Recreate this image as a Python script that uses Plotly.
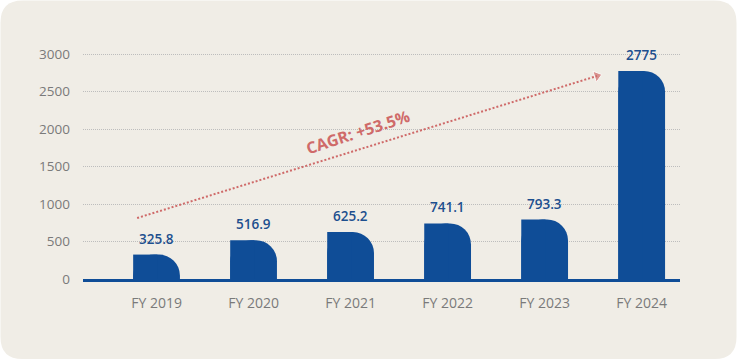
import plotly.graph_objects as go

categories = ["FY 2019", "FY 2020", "FY 2021", "FY 2022", "FY 2023", "FY 2024"]
revenue = [325.8, 516.9, 625.2, 741.1, 793.3, 2775]
value_labels = ["325.8", "516.9", "625.2", "741.1", "793.3", "2775"]
y_ticks = [0, 500, 1000, 1500, 2000, 2500, 3000]
cagr_label = "CAGR: +53.5%"
cagr_arrow_x = [-0.2, 4.54]
cagr_arrow_y = [813, 2707]

BAR = "#0f4d97"
LABEL = "#1d4f8e"
RED = "#cf6a69"
CARD = "#f0ede6"
GRAY = "#7a7a7a"

W, H = 737, 361
ML, MR, MT, MB = 83, 57, 39, 82
pos = list(range(len(categories)))
bw = 0.482

fig = go.Figure()
fig.add_trace(go.Bar(x=pos, y=revenue, width=bw, offset=-bw / 2,
                     marker=dict(color=BAR, cornerradius=21, line=dict(width=0)), hoverinfo="skip"))
fig.add_trace(go.Bar(x=pos, y=revenue, width=0.25, offset=-bw / 2,
                     marker=dict(color=BAR, line=dict(width=0)), hoverinfo="skip"))

fig.add_trace(go.Scatter(x=cagr_arrow_x, y=cagr_arrow_y, mode="lines+markers",
                         line=dict(color=RED, width=2, dash="2px,2px"),
                         marker=dict(size=[0, 10], symbol="triangle-up", angleref="previous", color=RED),
                         cliponaxis=False, hoverinfo="skip"))

annotations = []
for p, v, t in zip(pos, revenue, value_labels):
    annotations.append(dict(x=p, y=v, text=t, showarrow=False, yanchor="bottom", yshift=5,
                            font=dict(family="Open Sans", size=13.5, color=LABEL, weight=600)))
annotations.append(dict(x=2.077, y=1960, text=cagr_label, showarrow=False, textangle=-18,
                        font=dict(family="Open Sans", size=16, color=RED, weight=700)))

# card background in paper coords
pw, ph = W - ML - MR, H - MT - MB
def px(x): return (x - ML) / pw
def py(y): return (H - MB - y) / ph
x0, x1, y0, y1, r = 0.5, 736.5, 0.5, 359, 22
path = (f"M {px(x0 + r)},{py(y0)} L {px(x1 - r)},{py(y0)} Q {px(x1)},{py(y0)} {px(x1)},{py(y0 + r)} "
        f"L {px(x1)},{py(y1 - r)} Q {px(x1)},{py(y1)} {px(x1 - r)},{py(y1)} "
        f"L {px(x0 + r)},{py(y1)} Q {px(x0)},{py(y1)} {px(x0)},{py(y1 - r)} "
        f"L {px(x0)},{py(y0 + r)} Q {px(x0)},{py(y0)} {px(x0 + r)},{py(y0)} Z")

fig.update_layout(
    width=W, height=H, margin=dict(l=ML, r=MR, t=MT, b=MB),
    paper_bgcolor="white", plot_bgcolor="rgba(0,0,0,0)",
    barmode="overlay", showlegend=False, annotations=annotations,
    shapes=[dict(type="path", path=path, xref="paper", yref="paper", fillcolor=CARD,
                 line=dict(width=0), layer="below")],
    font=dict(family="Open Sans", size=13, color=GRAY),
    xaxis=dict(range=[-0.758, 5.395], tickvals=pos, ticktext=categories, showgrid=False, zeroline=False,
               showline=True, linecolor=BAR, linewidth=3, ticklabelstandoff=9,
               tickfont=dict(size=14, color=GRAY), fixedrange=True),
    yaxis=dict(range=[0, 3200], tickvals=y_ticks, showgrid=True, gridcolor="#bdbdbd", griddash="1px,1px",
               gridwidth=1, zeroline=False, ticklabelstandoff=12, tickfont=dict(size=13.5, color=GRAY),
               fixedrange=True),
)
fig.write_html("out.html", config={"displayModeBar": False},
               post_script="document.body.style.margin='0';document.body.style.overflow='hidden';")
